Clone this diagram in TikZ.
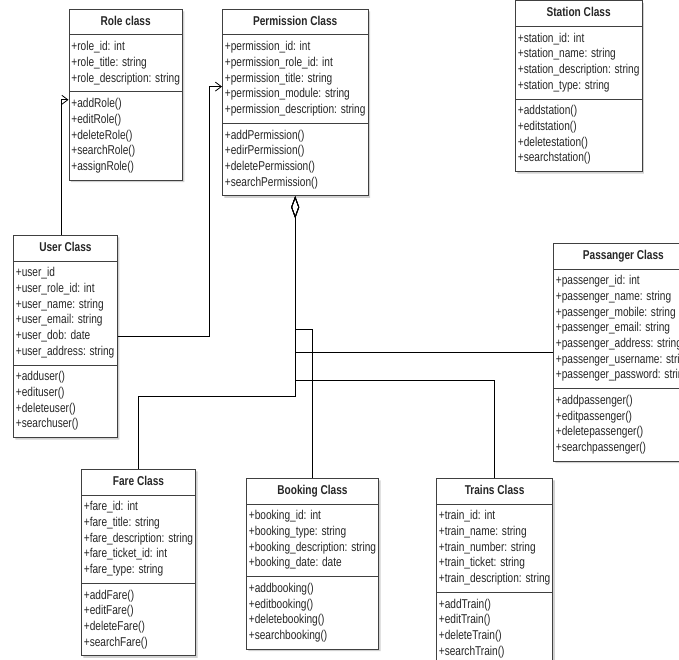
\documentclass[tikz,border=0pt]{standalone}
\usepackage{fontspec}
\setmainfont{Liberation Sans}[FakeStretch=0.79]
\usetikzlibrary{arrows.meta,shapes.multipart,shadows}

\begin{document}
\begin{tikzpicture}[x=1pt,y=-1pt,line width=0.8pt,
        >={Straight Barb[length=6pt,width=9pt]},
        umlclass/.style={rectangle split,rectangle split parts=3,
            rectangle split part align={center,left,left},
            draw=black!75,fill=white,text=black!85,anchor=north west,
            align=left,inner xsep=2.5pt,inner ysep=4.5pt,
            font=\fontsize{12.8}{15.7}\selectfont,
            drop shadow={shadow xshift=2pt,shadow yshift=-2pt,fill=black,opacity=.18}},
        agg/.style={{Diamond[open,length=22pt,width=8pt]}-}]
        \useasboundingbox (0,0) rectangle (679,660);
        \fill[white] (0,0) rectangle (679,660);
        \clip (0,0) rectangle (679,660);

        % upper row
        \node[umlclass,minimum width=113.5pt] at (68.5,9) (role)
            {\strut\textbf{Role class}
            \nodepart{two}\strut+role\_id: int\\+role\_title: string\\+role\_description: string\strut
            \nodepart{three}\strut+addRole()\\+editRole()\\+deleteRole()\\+searchRole()\\+assignRole()\strut};
        \node[umlclass,minimum width=144pt] at (222,9) (perm)
            {\strut\textbf{Permission Class}
            \nodepart{two}\strut+permission\_id: int\\+permission\_role\_id: int\\+permission\_title: string\\+permission\_module: string\\+permission\_description: string\strut
            \nodepart{three}\strut+addPermission()\\+edirPermission()\\+deletePermission()\\+searchPermission()\strut};
        \node[umlclass,minimum width=126pt] at (515,0.5) (station)
            {\strut\textbf{Station Class}
            \nodepart{two}\strut+station\_id: int\\+station\_name: string\\+station\_description: string\\+station\_type: string\strut
            \nodepart{three}\strut+addstation()\\+editstation()\\+deletestation()\\+searchstation()\strut};

        % middle row
        \node[umlclass,minimum width=104pt] at (13,235) (user)
            {\strut\textbf{User Class}
            \nodepart{two}\strut+user\_id\\+user\_role\_id: int\\+user\_name: string\\+user\_email: string\\+user\_dob: date\\+user\_address: string\strut
            \nodepart{three}\strut+adduser()\\+edituser()\\+deleteuser()\\+searchuser()\strut};
        \node[umlclass,minimum width=140pt] at (553,243) (pass)
            {\strut\textbf{Passanger Class}
            \nodepart{two}\strut+passenger\_id: int\\+passenger\_name: string\\+passenger\_mobile: string\\+passenger\_email: string\\+passenger\_address: string\\+passenger\_username: string\\+passenger\_password: string\strut
            \nodepart{three}\strut+addpassenger()\\+editpassenger()\\+deletepassenger()\\+searchpassenger()\strut};

        % lower row
        \node[umlclass,minimum width=113pt] at (81,469) (fare)
            {\strut\textbf{Fare Class}
            \nodepart{two}\strut+fare\_id: int\\+fare\_title: string\\+fare\_description: string\\+fare\_ticket\_id: int\\+fare\_type: string\strut
            \nodepart{three}\strut+addFare()\\+editFare()\\+deleteFare()\\+searchFare()\strut};
        \node[umlclass,minimum width=131pt] at (246,478) (booking)
            {\strut\textbf{Booking Class}
            \nodepart{two}\strut+booking\_id: int\\+booking\_type: string\\+booking\_description: string\\+booking\_date: date\strut
            \nodepart{three}\strut+addbooking()\\+editbooking()\\+deletebooking()\\+searchbooking()\strut};
        \node[umlclass,minimum width=116pt] at (436,478) (trains)
            {\strut\textbf{Trains Class}
            \nodepart{two}\strut+train\_id: int\\+train\_name: string\\+train\_number: string\\+train\_ticket: string\\+train\_description: string\strut
            \nodepart{three}\strut+addTrain()\\+editTrain()\\+deleteTrain()\\+searchTrain()\strut};

        % associations
        \draw[->] ([xshift=-4pt]user.north) |- ([yshift=-8pt]role.two split west);
        \draw[->] (user.east) -- ++(92,0) |- ([yshift=16pt]perm.west);

        % aggregations
        \draw[agg] (perm.south) -- ++(0,133) -| (booking.north);
        \draw[agg] (perm.south) |- (pass.west);
        \draw[agg] (perm.south) -- ++(0,184) -| (trains.north);
        \draw[agg] (perm.south) -- ++(0,200) -| (fare.north);
\end{tikzpicture}
\end{document}
